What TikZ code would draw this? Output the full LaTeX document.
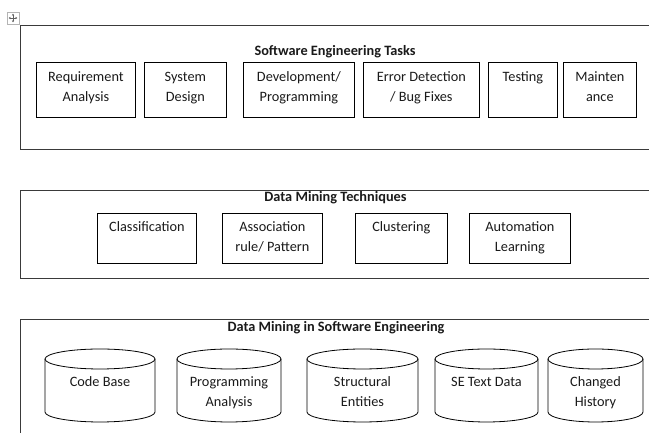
\documentclass[tikz,border=0pt]{standalone}
\usepackage{fontspec}
\setmainfont{Carlito}
\usetikzlibrary{arrows.meta}

\definecolor{ink}{HTML}{1A1A1A}
\definecolor{framegray}{HTML}{3A3A3A}
\definecolor{handlegray}{HTML}{B4B4B4}
\definecolor{handleink}{HTML}{606060}

% database cylinder: name, left x, right x, label
\newcommand\dbcyl[4]{%
  \pgfmathsetmacro\cylcx{(#2+#3)/2}%
  \pgfmathsetmacro\cylrx{(#3-#2)/2}%
  \draw[boxline] (\cylcx,74) ellipse [x radius=\cylrx pt, y radius=10pt];
  \draw[boxline] (#2,74) -- (#2,21)
     arc[start angle=180, end angle=360, x radius=\cylrx pt, y radius=10pt] -- (#3,74);
  \coordinate (#1) at (\cylcx,84);
  \node[lbl, anchor=north] (#1-t) at ([yshift=-23pt]#1) {\strut #4};
}

\begin{document}
\begin{tikzpicture}[x=1pt, y=1pt,
  boxline/.style={draw=black, line width=0.8pt},
  frameline/.style={draw=framegray, line width=0.9pt},
  taskbox/.style={boxline, rectangle, inner sep=0pt, anchor=south west},
  lbl/.style={inner sep=0pt, align=center, text=ink,
              font=\fontsize{14.3}{20}\selectfont},
  ttl/.style={inner sep=0pt, anchor=base, text=ink,
              font=\fontsize{14.3}{20}\selectfont\bfseries}]
\useasboundingbox (0,0) rectangle (649,433);

% move handle in the corner
\node[draw=handlegray, fill=white, line width=0.6pt, minimum size=12pt,
      inner sep=0pt] (handle) at (13,415) {};
\draw[handleink, line width=0.5pt, {Stealth[length=2pt,width=2.4pt]}-{Stealth[length=2pt,width=2.4pt]}]
  ([xshift=2pt]handle.west) -- ([xshift=-2pt]handle.east);
\draw[handleink, line width=0.5pt, {Stealth[length=2pt,width=2.4pt]}-{Stealth[length=2pt,width=2.4pt]}]
  ([yshift=-2pt]handle.north) -- ([yshift=2pt]handle.south);

% ---------- Software Engineering Tasks ----------
\draw[frameline] (650,408) -- (20,408) -- (20,284) -- (650,284);
\node[ttl] (t1) at (335,377.7) {Software Engineering Tasks};

\node[taskbox, minimum width=99pt, minimum height=55pt] (ra) at (36,315) {};
\node[taskbox, minimum width=82pt, minimum height=55pt] (sd) at (144,315) {};
\node[taskbox, minimum width=111pt, minimum height=55pt] (dp) at (243,315) {};
\node[taskbox, minimum width=116pt, minimum height=55pt] (ed) at (363,315) {};
\node[taskbox, minimum width=69pt, minimum height=55pt] (te) at (488,315) {};
\node[taskbox, minimum width=73pt, minimum height=55pt] (ma) at (563,315) {};

\node[lbl, anchor=north] (ra-t) at ([yshift=-5pt]ra.north) {\strut Requirement\\Analysis};
\node[lbl, anchor=north] (sd-t) at ([yshift=-5pt]sd.north) {\strut System\\Design};
\node[lbl, anchor=north] (dp-t) at ([yshift=-5pt]dp.north) {\strut Development/\\Programming};
\node[lbl, anchor=north] (ed-t) at ([yshift=-5pt]ed.north) {\strut Error Detection\\/ Bug Fixes};
\node[lbl, anchor=north] (te-t) at ([yshift=-5pt]te.north) {\strut Testing};
\node[lbl, anchor=north] (ma-t) at ([yshift=-5pt]ma.north) {\strut Mainten\\ance};

% ---------- Data Mining Techniques ----------
\draw[frameline] (650,243) -- (20,243) -- (20,154.5) -- (650,154.5);
\node[ttl] (t2) at (335.5,231.3) {Data Mining Techniques};

\node[taskbox, minimum width=99pt, minimum height=50pt] (cl) at (97,169) {};
\node[taskbox, minimum width=100pt, minimum height=50pt] (ar) at (222,169) {};
\node[taskbox, minimum width=92pt, minimum height=50pt] (cu) at (355,169) {};
\node[taskbox, minimum width=101pt, minimum height=50pt] (al) at (469,169) {};

\node[lbl, anchor=north] (cl-t) at ([yshift=-3.7pt]cl.north) {\strut Classification};
\node[lbl, anchor=north] (ar-t) at ([yshift=-3.7pt]ar.north) {\strut Association\\rule/ Pattern};
\node[lbl, anchor=north] (cu-t) at ([yshift=-3.7pt]cu.north) {\strut Clustering};
\node[lbl, anchor=north] (al-t) at ([yshift=-3.7pt]al.north) {\strut Automation\\Learning};

% ---------- Data Mining in Software Engineering ----------
\draw[frameline] (650,114) -- (20,114) -- (20,-2);
\node[ttl] (t3) at (336,101.3) {Data Mining in Software Engineering};

\dbcyl{cb}{45}{155}{Code Base}
\dbcyl{pa}{177}{281}{Programming\\Analysis}
\dbcyl{se}{307}{418}{Structural\\Entities}
\dbcyl{st}{435}{538}{SE Text Data}
\dbcyl{ch}{548}{643}{Changed\\History}
\end{tikzpicture}
\end{document}
